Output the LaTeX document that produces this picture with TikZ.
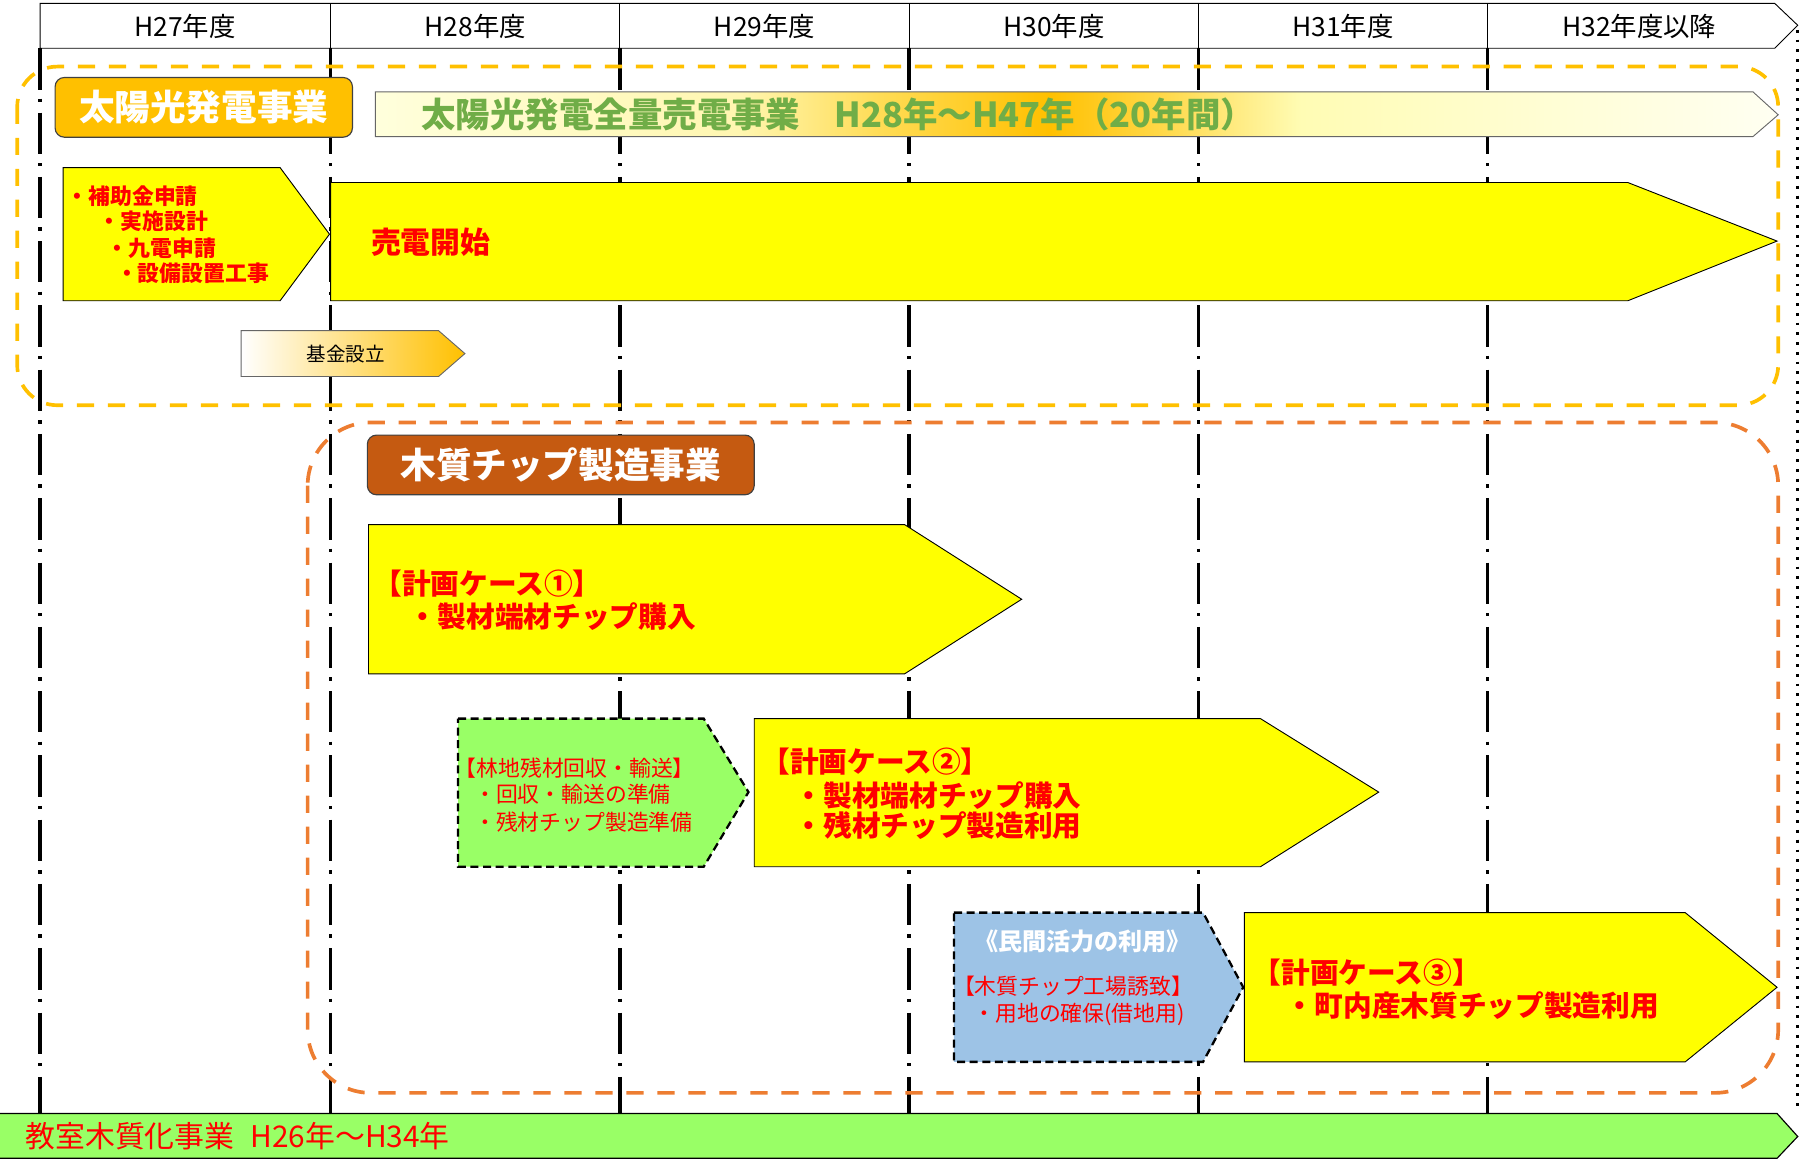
\documentclass[tikz,border=0pt]{standalone}
\usepackage{fontspec}
\setmainfont{Noto Sans CJK JP}
\usepackage{xcolor}
\usepackage{tikz}

\definecolor{solgold}{HTML}{FFC000}
\definecolor{chiporange}{HTML}{ED7D31}
\definecolor{chipbrown}{HTML}{C55A11}
\definecolor{planyellow}{HTML}{FFFF00}
\definecolor{planred}{HTML}{FF0000}
\definecolor{leafgreen}{HTML}{99FF66}
\definecolor{skyblue}{HTML}{9DC3E6}
\definecolor{textgreen}{HTML}{70AD47}
\definecolor{paleA}{HTML}{FFFFDC}
\definecolor{paleB}{HTML}{FFF6B0}
\definecolor{paleC}{HTML}{FFDC55}
\definecolor{paleD}{HTML}{FFD848}
\definecolor{paleE}{HTML}{FFFCB4}
\definecolor{paleF}{HTML}{FFFFF2}
\pgfdeclarehorizontalshading{solarfade}{100bp}{color(0bp)=(paleA); color(25bp)=(paleA); color(38bp)=(paleB); color(43bp)=(paleC); color(49bp)=(solgold); color(53bp)=(paleD); color(58bp)=(paleE); color(75bp)=(paleF); color(100bp)=(paleF)}

\begin{document}
\begin{tikzpicture}[x=1pt, y=-1pt,
    yearline/.style={line width=3pt, dash pattern=on 36pt off 8pt on 3pt off 9pt},
    sectionline/.style={line width=3.2pt, dash pattern=on 15pt off 12pt, rounded corners=#1},
    planbox/.style={draw=black, line width=0.8pt, fill=planyellow},
    prepbox/.style={draw=black, line width=2pt, dash pattern=on 7pt off 4pt},
    fadebox/.style={draw=black!60, line width=0.8pt},
    labelbox/.style={draw=black!75, line width=1pt, rounded corners=8pt, text=white, font=\bfseries\fontsize{31}{31}\selectfont},
    caseline/.style={anchor=west, inner sep=0pt, text=planred, font=\bfseries\fontsize{25}{25}\selectfont},
    stepline/.style={anchor=west, inner sep=0pt, text=planred, font=\bfseries\fontsize{19}{19}\selectfont},
    noteline/.style={anchor=west, inner sep=0pt, text=planred, font=\fontsize{19}{19}\selectfont}
  ]
		\useasboundingbox (0,0) rectangle (1568,1012);

		% year header
		\draw [line width=0.8pt] (35,3) -- (1546,3) -- (1566,22) -- (1546,42) -- (35,42) -- cycle;
		\foreach \x in {288,540,792,1044,1296}
		\draw [line width=0.8pt] (\x,3) -- (\x,42);
		\foreach \x/\yr [count=\i] in {161/H27年度, 414/H28年度, 666/H29年度, 918/H30年度, 1170/H31年度, 1428/H32年度以降}
		\node [font=\fontsize{23}{23}\selectfont] (yr\i) at (\x,23) {\yr};

		% year lines
		\foreach \x in {35,288,540,792,1044,1296}
		\draw [yearline] (\x,42) -- (\x,970);
		\draw [line width=2.5pt, dash pattern=on 2.5pt off 6pt] (1566,26) -- (1566,968);

		% solar section
		\draw [sectionline=35pt, draw=solgold] (15,58) rectangle (1549,353);
		\node [labelbox, fill=solgold, minimum width=259pt, minimum height=52pt] (solarlabel) at (177.5,93.5) {太陽光発電事業};
		\shadedraw [fadebox, shading=solarfade] (327,80) -- (1527,80) -- (1549,100) -- (1527,119) -- (327,119) -- cycle;
		\node [anchor=west, inner sep=0pt, text=textgreen, font=\bfseries\fontsize{30}{30}\selectfont] (solartitle) at (367,100) {太陽光発電全量売電事業　H28年～H47年（20年間）};

		\draw [planbox] (55,146) -- (244,146) -- (287,204) -- (244,262) -- (55,262) -- cycle;
		\node [stepline] (hojo) at (58,171) {・補助金申請};
		\node [stepline] (sekkei) at (86,193) {・実施設計};
		\node [stepline] (kyuden) at (93,216) {・九電申請};
		\node [stepline] (koji) at (101,238) {・設備設置工事};

		\draw [planbox] (288,159) -- (1418,159) -- (1548,210) -- (1418,262) -- (288,262) -- cycle;
		\node [anchor=west, inner sep=0pt, text=planred, font=\bfseries\fontsize{26}{26}\selectfont] (baiden) at (323,211) {売電開始};

		\shadedraw [fadebox, left color=white, right color=solgold] (210,288) -- (382,288) -- (405,308) -- (382,328) -- (210,328) -- cycle;
		\node [font=\fontsize{17}{17}\selectfont] (kikin) at (301,308) {基金設立};

		% wood chip section
		\draw [sectionline=55pt, draw=chiporange] (268,368) rectangle (1549,952);
		\node [labelbox, fill=chipbrown, minimum width=337pt, minimum height=52pt] (chiplabel) at (488.5,405) {木質チップ製造事業};

		\draw [planbox] (321,457) -- (788,457) -- (890,522) -- (788,587) -- (321,587) -- cycle;
		\node [caseline] (caseA) at (325,508) {【計画ケース①】};
		\node [caseline] (caseAa) at (356,537) {・製材端材チップ購入};

		\draw [prepbox, fill=leafgreen] (399,626) -- (613,626) -- (652,690) -- (613,755) -- (399,755) -- cycle;
		\node [noteline] (rinchi) at (396,669) {【林地残材回収・輸送】};
		\node [noteline] (rinchiA) at (413,692) {・回収・輸送の準備};
		\node [noteline] (rinchiB) at (413,716) {・残材チップ製造準備};

		\draw [planbox] (657,626) -- (1098,626) -- (1201,690) -- (1098,755) -- (657,755) -- cycle;
		\node [caseline] (caseB) at (663,663) {【計画ケース②】};
		\node [caseline] (caseBa) at (692,693) {・製材端材チップ購入};
		\node [caseline] (caseBb) at (692,719) {・残材チップ製造利用};

		\draw [prepbox, fill=skyblue] (831,795) -- (1048,795) -- (1083,860) -- (1048,925) -- (831,925) -- cycle;
		\node [text=white, font=\bfseries\fontsize{21}{21}\selectfont] (minkan) at (943,820) {《民間活力の利用》};
		\node [noteline] (yuchi) at (830,859) {【木質チップ工場誘致】};
		\node [noteline] (yochi) at (848,884) {・用地の確保(借地用)};

		\draw [planbox] (1084,795) -- (1468,795) -- (1548,860) -- (1468,925) -- (1084,925) -- cycle;
		\node [caseline] (caseC) at (1091,847) {【計画ケース③】};
		\node [caseline] (caseCa) at (1120,876) {・町内産木質チップ製造利用};

		% classroom bar
		\draw [line width=1pt, fill=leafgreen] (-2,970) -- (1548,970) -- (1566,990) -- (1548,1009) -- (-2,1009) -- cycle;
		\node [anchor=west, inner sep=0pt, text=planred, font=\fontsize{26}{26}\selectfont] (kyoshitsu) at (22,990) {教室木質化事業\hspace{14pt}H26年～H34年};
\end{tikzpicture}
\end{document}
